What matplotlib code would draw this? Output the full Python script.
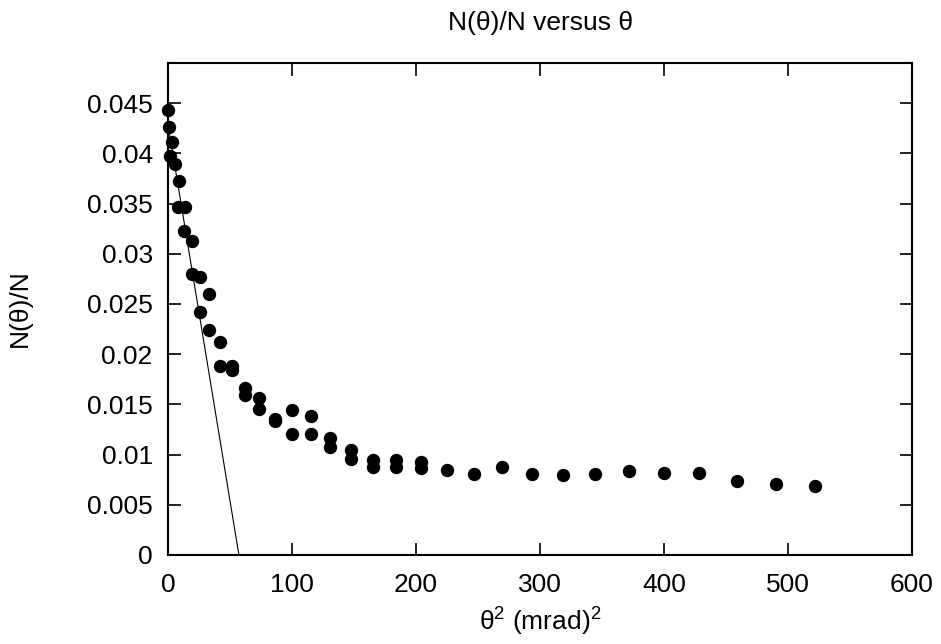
import matplotlib
matplotlib.use("Agg")
import matplotlib.pyplot as plt
import numpy as np

plt.rcParams['font.family'] = ['Liberation Sans', 'DejaVu Sans']
plt.rcParams['mathtext.fontset'] = 'custom'
plt.rcParams['mathtext.rm'] = 'Liberation Sans'
plt.rcParams['mathtext.it'] = 'Liberation Sans'

# measured points: theta^2 (mrad^2) and N(theta)/N
theta2 = [0, 0.5, 3, 2, 5.6, 8.9, 8.3, 13.7, 13.2, 19.6, 19.1, 25.8, 25.8,
          33.3, 33.3, 41.9, 41.9, 51.3, 51.3, 62, 62, 73.6, 73.6, 86.5, 86.5,
          100.3, 100.3, 115.2, 115.2, 130.6, 130.6, 147.6, 147.6, 165.6, 165.6,
          184, 184, 203.8, 203.8, 225.3, 246.8, 269.6, 293.8, 318.5, 344.6,
          371.8, 399.8, 428.5, 459.1, 490.1, 522]
frac = [0.0443, 0.0426, 0.0411, 0.0397, 0.0389, 0.0372, 0.0347, 0.0347, 0.0323,
        0.0313, 0.0280, 0.0277, 0.0242, 0.0260, 0.0224, 0.0212, 0.0188, 0.0188,
        0.0184, 0.0166, 0.0159, 0.0156, 0.0145, 0.01355, 0.0133, 0.0144, 0.0121,
        0.0138, 0.0121, 0.0117, 0.0108, 0.0105, 0.0096, 0.0095, 0.0088, 0.0095,
        0.0088, 0.0093, 0.0087, 0.0085, 0.0081, 0.0088, 0.0081, 0.0080, 0.0081,
        0.0084, 0.0082, 0.0082, 0.0074, 0.0071, 0.0069]

# straight-line fit to the first points
fit_a = 0.0429
fit_b = -0.00075

xticks = [0, 100, 200, 300, 400, 500, 600]
yticks = [0, 0.005, 0.01, 0.015, 0.02, 0.025, 0.03, 0.035, 0.04, 0.045]

fig = plt.figure(figsize=(9.41, 6.44), dpi=100)
ax = fig.add_axes([168 / 941, 89 / 644, 744 / 941, 492 / 644])

xf = np.array([0, 600])
ax.plot(xf, fit_a + fit_b * xf, color='black', linewidth=0.8)
ax.plot(theta2, frac, 'o', color='black', markersize=8.6, clip_on=False, zorder=3)

ax.set_xlim(0, 600)
ax.set_ylim(0, 0.049)
ax.set_xticks(xticks)
ax.set_yticks(yticks)
ax.set_yticklabels([f"{v:g}" for v in yticks])

for s in ax.spines.values():
    s.set_linewidth(1.5)
ax.tick_params(direction='in', length=9, width=1.2, top=True, right=True,
               labelsize=19)
ax.tick_params(axis='x', pad=13)
ax.tick_params(axis='y', pad=11)

fig.text(540 / 941, 1 - 23 / 644, "N(θ)/N versus θ", ha='center', va='center', fontsize=19)
fig.text(540 / 941, 1 - 622 / 644, "θ$^2$ (mrad)$^2$", ha='center', va='center', fontsize=19)
fig.text(20 / 941, 1 - 308 / 644, "N(θ)/N", ha='center', va='center', rotation=90, fontsize=19)

fig.savefig("out.png", dpi=100)
